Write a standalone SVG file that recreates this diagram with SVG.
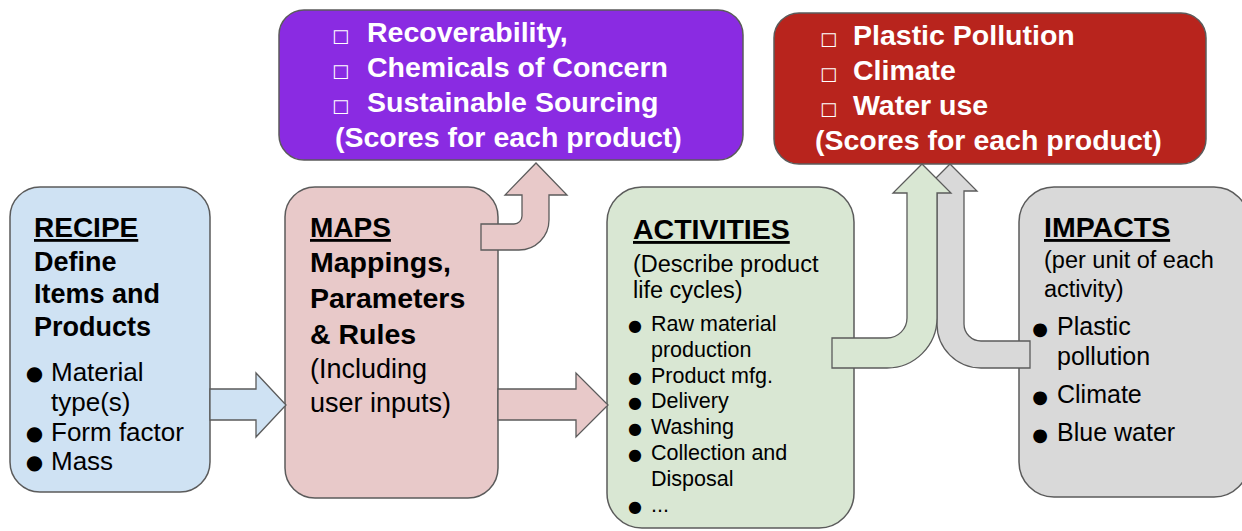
<svg xmlns="http://www.w3.org/2000/svg" width="1242" height="531" viewBox="0 0 1242 531">
  <style>
    .box { stroke: #5b5b5b; stroke-width: 1.5; }
    .arrow { stroke: #5b5b5b; stroke-width: 1.3; stroke-linejoin: miter; }
    .t { font-family: "Liberation Sans", Arial, sans-serif; fill: #000; }
    .b { font-weight: bold; }
    .w { fill: #fff; }
    .u { text-decoration: underline; }
    .bul { font-family: "DejaVu Sans", sans-serif; font-weight: normal; text-anchor: middle; }
    .chk { font-family: "DejaVu Sans", sans-serif; font-weight: normal; fill: #fff; font-size: 18px; }
  </style>

  <!-- Top score boxes -->
  <g id="node-scores-circularity">
    <rect class="box" x="279" y="10" width="464" height="150" rx="25" fill="#8a2be2"/>
    <g class="t b w" font-size="28.5">
      <text x="332" y="42" class="chk">□</text>
      <text x="367" y="42">Recoverability,</text>
      <text x="332" y="77" class="chk">□</text>
      <text x="367" y="77">Chemicals of Concern</text>
      <text x="332" y="112" class="chk">□</text>
      <text x="367" y="112">Sustainable Sourcing</text>
      <text x="335" y="147">(Scores for each product)</text>
    </g>
  </g>

  <g id="node-scores-impacts">
    <rect class="box" x="774" y="13" width="432" height="151" rx="25" fill="#b8241d"/>
    <g class="t b w" font-size="28.5">
      <text x="820" y="45" class="chk">□</text>
      <text x="853" y="45">Plastic Pollution</text>
      <text x="820" y="80" class="chk">□</text>
      <text x="853" y="80">Climate</text>
      <text x="820" y="115" class="chk">□</text>
      <text x="853" y="115">Water use</text>
      <text x="815" y="150">(Scores for each product)</text>
    </g>
  </g>

  <!-- Recipe -->
  <g id="node-recipe">
    <rect class="box" x="10" y="187" width="200" height="305" rx="30" fill="#cfe2f3"/>
    <text class="t b u" x="34" y="237" font-size="28">RECIPE</text>
    <g class="t b" font-size="27">
      <text x="34" y="271">Define</text>
      <text x="34" y="303">Items and</text>
      <text x="34" y="336">Products</text>
    </g>
    <g class="t" font-size="26">
      <text class="bul" x="34.5" y="380" font-size="20">●</text>
      <text x="51" y="381">Material</text>
      <text x="51" y="411">type(s)</text>
      <text class="bul" x="34.5" y="440" font-size="20">●</text>
      <text x="51" y="441">Form factor</text>
      <text class="bul" x="34.5" y="469" font-size="20">●</text>
      <text x="51" y="470">Mass</text>
    </g>
  </g>

  <!-- Maps -->
  <g id="node-maps">
    <rect class="box" x="285" y="187" width="213" height="311" rx="30" fill="#e8c9c9"/>
    <text class="t b u" x="310" y="237" font-size="28">MAPS</text>
    <g class="t b" font-size="28.5">
      <text x="310" y="272">Mappings,</text>
      <text x="310" y="308">Parameters</text>
      <text x="310" y="344">&amp; Rules</text>
    </g>
    <g class="t" font-size="27">
      <text x="310" y="378">(Including</text>
      <text x="310" y="412">user inputs)</text>
    </g>
  </g>

  <!-- Activities -->
  <g id="node-activities">
    <rect class="box" x="607" y="187" width="247" height="341" rx="35" fill="#d9e7d3"/>
    <text class="t b u" x="633" y="239" font-size="28.5">ACTIVITIES</text>
    <g class="t" font-size="23.5">
      <text x="633" y="272">(Describe product</text>
      <text x="633" y="298">life cycles)</text>
    </g>
    <g class="t" font-size="21.5">
      <text class="bul" x="635" y="331" font-size="16">●</text>
      <text x="651" y="331">Raw material</text>
      <text x="651" y="357">production</text>
      <text class="bul" x="635" y="383" font-size="16">●</text>
      <text x="651" y="383">Product mfg.</text>
      <text class="bul" x="635" y="408" font-size="16">●</text>
      <text x="651" y="408">Delivery</text>
      <text class="bul" x="635" y="434" font-size="16">●</text>
      <text x="651" y="434">Washing</text>
      <text class="bul" x="635" y="460" font-size="16">●</text>
      <text x="651" y="460">Collection and</text>
      <text x="651" y="486">Disposal</text>
      <text class="bul" x="635" y="512" font-size="16">●</text>
      <text x="651" y="512">...</text>
    </g>
  </g>

  <!-- Impacts -->
  <g id="node-impacts">
    <rect class="box" x="1019" y="187" width="230" height="310" rx="35" fill="#d9d9d9"/>
    <text class="t b u" x="1044" y="237" font-size="28.5">IMPACTS</text>
    <g class="t" font-size="23.5">
      <text x="1044" y="268">(per unit of each</text>
      <text x="1044" y="297">activity)</text>
    </g>
    <g class="t" font-size="25">
      <text class="bul" x="1040" y="335" font-size="18">●</text>
      <text x="1057" y="335">Plastic</text>
      <text x="1057" y="365">pollution</text>
      <text class="bul" x="1040" y="403" font-size="18">●</text>
      <text x="1057" y="403">Climate</text>
      <text class="bul" x="1040" y="441" font-size="18">●</text>
      <text x="1057" y="441">Blue water</text>
    </g>
  </g>

  <!-- Block-arrow connectors -->
  <g id="connectors">
    <polygon class="arrow" fill="#cfe2f3" points="210,389 256,389 256,373 286,405 256,437 256,420 210,420"/>
    <polygon class="arrow" fill="#e8c9c9" points="498,389 576,389 576,373 608,405 576,437 576,420 498,420"/>
    <path class="arrow" fill="#e8c9c9" d="M481,224 L514,224 A8,8 0 0 0 522,216 L522,195 L505,195 L536,163 L567,195 L549,195 L549,220 A30,30 0 0 1 519,250 L481,250 Z"/>
    <path class="arrow" fill="#d9d9d9" d="M1030,341 L981,341 A17,17 0 0 1 964,324 L964,191 L977,191 L950,164 L923,191 L937,191 L937,324 A44,44 0 0 0 981,368 L1030,368 Z"/>
    <path class="arrow" fill="#d9e7d3" d="M832,338 L887,338 A20,20 0 0 0 907,318 L907,193 L893,193 L922,164 L951,193 L937,193 L937,318 A50,50 0 0 1 887,368 L832,368 Z"/>
  </g>
</svg>
